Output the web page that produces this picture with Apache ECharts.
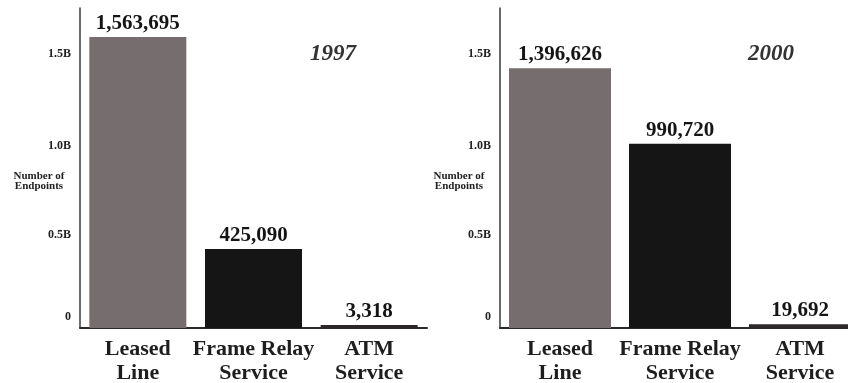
<!DOCTYPE html>
<html>
<head>
<meta charset="utf-8">
<script src="https://cdn.jsdelivr.net/npm/echarts@6/dist/echarts.min.js"></script>
<style>
  html, body { margin: 0; padding: 0; background: #fff; }
  #chart { width: 848px; height: 383px; }
</style>
</head>
<body>
<div id="chart"></div>
<script>
// Service categories shown along each horizontal axis
const categories = ['Leased\nLine', 'Frame Relay\nService', 'ATM\nService'];

// Endpoint counts per service type
const endpoints1997 = [1563695, 425090, 3318];
const endpoints2000 = [1396626, 990720, 19692];

// Vertical axis tick values and their printed labels
const tickValues = [0, 500000, 1000000, 1500000];
const tickLabels = ['0', '0.5B', '1.0B', '1.5B'];

const yearLabels = ['1997', '2000'];
const axisTitle = 'Number of\nEndpoints';

const SERIF = "'Liberation Serif', 'Times New Roman', serif";
const barColors = ['#766d6e', '#151515', '#2c2829'];

// small per-tick vertical nudges (px, positive = up)
const tickNudge = [11, 0, -4, -5];

const chart = echarts.init(document.getElementById('chart'), null, { renderer: 'canvas' });

function yAxisFor(gridIndex) {
  const rich = {};
  tickValues.forEach((v, i) => {
    const d = tickNudge[i];
    rich['t' + i] = {
      fontFamily: SERIF, fontWeight: 'bold', fontSize: 12, color: '#222',
      padding: d >= 0 ? [0, 0, 2 * d, 0] : [-2 * d, 0, 0, 0]
    };
  });
  return {
    type: 'value', gridIndex, min: 0, max: 1720000, interval: 500000,
    axisLine: { show: true, lineStyle: { color: '#3a3a3a', width: 1.5 } },
    axisTick: { show: false },
    splitLine: { show: false },
    axisLabel: {
      showMaxLabel: false, margin: 9,
      formatter: (v) => {
        const i = tickValues.indexOf(v);
        return i < 0 ? '' : '{t' + i + '|' + tickLabels[i] + '}';
      },
      rich
    }
  };
}

function xAxisFor(gridIndex) {
  return {
    type: 'category', gridIndex, data: categories,
    axisLine: { show: true, lineStyle: { color: '#2a2a2a', width: 2 } },
    axisTick: { show: false },
    axisLabel: {
      interval: 0, margin: 9,
      fontFamily: SERIF, fontWeight: 'bold', fontSize: 22, lineHeight: 24, color: '#1e1e1e'
    }
  };
}

function seriesFor(idx, values, width) {
  return {
    type: 'bar', xAxisIndex: idx, yAxisIndex: idx,
    barWidth: width, barMinHeight: 3,
    data: values.map((v, i) => ({ value: v, itemStyle: { color: barColors[i] } })),
    label: {
      show: true, position: 'top', distance: 3,
      fontFamily: SERIF, fontWeight: 'bold', fontSize: 21, color: '#151515',
      formatter: (p) => p.value.toLocaleString('en-US')
    },
    silent: true, animation: false
  };
}

function sideText(x, y, text, style) {
  return {
    type: 'text', x, y,
    style: Object.assign({ text, fontFamily: SERIF, fontWeight: 'bold', align: 'center', verticalAlign: 'middle', fill: '#222' }, style)
  };
}

chart.setOption({
  backgroundColor: '#ffffff',
  animation: false,
  grid: [
    { left: 80, top: 8, width: 347, bottom: 55, containLabel: false, outerBoundsMode: 'none' },
    { left: 500, top: 8, width: 360, bottom: 55, containLabel: false, outerBoundsMode: 'none' }
  ],
  xAxis: [xAxisFor(0), xAxisFor(1)],
  yAxis: [yAxisFor(0), yAxisFor(1)],
  series: [seriesFor(0, endpoints1997, 97), seriesFor(1, endpoints2000, 102)],
  graphic: [
    sideText(333, 54, yearLabels[0], { fontStyle: 'italic', fontSize: 23, fill: '#333' }),
    sideText(771, 54, yearLabels[1], { fontStyle: 'italic', fontSize: 23, fill: '#333' }),
    sideText(39, 181, axisTitle, { fontSize: 11, lineHeight: 10, fill: '#222' }),
    sideText(459, 181, axisTitle, { fontSize: 11, lineHeight: 10, fill: '#222' })
  ]
});
</script>
</body>
</html>
